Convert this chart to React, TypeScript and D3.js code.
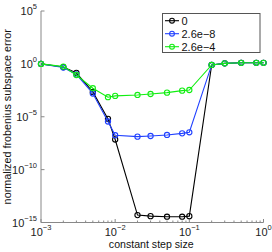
import { useRef, useEffect } from 'react'
import * as d3 from 'd3'

const stepSizes = [1e-3, 2e-3, 3e-3, 5e-3, 8e-3, 1e-2, 2e-2, 3e-2, 5e-2, 8e-2, 1e-1, 2e-1, 3e-1, 5e-1, 8e-1, 1]

// log10 of error
const errZero = [0, -0.3, -0.85, -2.65, -5.2, -7.15, -14.3, -14.4, -14.45, -14.45, -14.4, -0.1, 0.05, 0.1, 0.1, 0.1]
const errSmall = [0, -0.35, -1.0, -2.8, -5.45, -6.75, -6.88, -6.82, -6.72, -6.57, -6.47, -0.1, 0.05, 0.1, 0.1, 0.1]
const errLarge = [0, -0.26, -1.05, -2.3, -3.15, -3.03, -2.94, -2.85, -2.72, -2.53, -2.47, -0.1, 0.05, 0.1, 0.1, 0.1]

const seriesNames = ['0', '2.6e\u22128', '2.6e\u22124']
const seriesColors = ['#000000', '#2040ff', '#11ee11']

const xTicks = [-3, -2, -1, 0]
const yTicks = [-15, -10, -5, 0, 5]

const FONT = '"Liberation Sans", Arial, sans-serif'

export default function App() {
  const svgRef = useRef<SVGSVGElement>(null)

  useEffect(() => {
    if (!svgRef.current) return
    const svg = d3.select(svgRef.current)
    svg.selectAll('*').remove()

    const x = d3.scaleLog().domain([1e-3, 1]).range([41, 263.5])
    const y = d3.scaleLog().domain([1e-15, 1e5]).range([222.5, 11])

    const g = svg.append('g')

    // axes lines
    g.append('line')
      .attr('x1', x(1e-3)).attr('x2', x(1))
      .attr('y1', y(1e-15)).attr('y2', y(1e-15))
      .attr('stroke', '#888').attr('stroke-width', 1)
    g.append('line')
      .attr('x1', x(1e-3)).attr('x2', x(1e-3))
      .attr('y1', y(1e-15)).attr('y2', y(1e5))
      .attr('stroke', '#888').attr('stroke-width', 1)

    // x ticks, major and minor (inside)
    const minor: number[] = []
    for (let e = -3; e < 0; e++) {
      for (let k = 2; k <= 9; k++) minor.push(k * Math.pow(10, e))
    }
    g.selectAll('.xminor')
      .data(minor)
      .join('line')
      .attr('x1', (d) => x(d)).attr('x2', (d) => x(d))
      .attr('y1', y(1e-15)).attr('y2', y(1e-15) - 2)
      .attr('stroke', '#888')
    g.selectAll('.xmajor')
      .data(xTicks)
      .join('line')
      .attr('x1', (d) => x(Math.pow(10, d))).attr('x2', (d) => x(Math.pow(10, d)))
      .attr('y1', y(1e-15)).attr('y2', y(1e-15) - 3.5)
      .attr('stroke', '#888')
    g.selectAll('.ymajor')
      .data(yTicks)
      .join('line')
      .attr('x1', x(1e-3)).attr('x2', x(1e-3) + 3.5)
      .attr('y1', (d) => y(Math.pow(10, d))).attr('y2', (d) => y(Math.pow(10, d)))
      .attr('stroke', '#888')

    // tick labels
    xTicks.forEach((e) => {
      const t = g.append('text')
        .attr('x', x(Math.pow(10, e)))
        .attr('y', 236)
        .attr('text-anchor', 'middle')
        .attr('font-family', FONT)
        .attr('font-size', 11)
        .attr('fill', '#222')
      t.append('tspan').text('10')
      t.append('tspan').attr('dy', -6).attr('font-size', 7.5).text(e < 0 ? `\u2212${-e}` : `${e}`)
    })
    yTicks.forEach((e) => {
      const t = g.append('text')
        .attr('x', 37)
        .attr('y', y(Math.pow(10, e)) + 4)
        .attr('text-anchor', 'end')
        .attr('font-family', FONT)
        .attr('font-size', 11)
        .attr('fill', '#222')
      t.append('tspan').text('10')
      t.append('tspan').attr('dy', -6).attr('font-size', 7.5).text(e < 0 ? `\u2212${-e}` : `${e}`)
    })

    // axis titles
    g.append('text')
      .attr('x', x(Math.sqrt(1e-3 * 1)) - 1)
      .attr('y', 248)
      .attr('text-anchor', 'middle')
      .attr('font-family', FONT)
      .attr('font-size', 10.6)
      .attr('fill', '#111')
      .text('constant step size')
    g.append('text')
      .attr('transform', `translate(10.5,${(y(1e-15) + y(1e5)) / 2}) rotate(-90)`)
      .attr('text-anchor', 'middle')
      .attr('font-family', FONT)
      .attr('font-size', 10.8)
      .attr('fill', '#111')
      .text('normalized frobenius subspace error')

    // series
    const allSeries = [errZero, errSmall, errLarge]
    const line = d3.line<number>()
      .x((_, i) => x(stepSizes[i]))
      .y((d) => y(Math.pow(10, d)))

    allSeries.forEach((s, si) => {
      const color = seriesColors[si]
      g.append('path')
        .datum(s)
        .attr('d', line)
        .attr('fill', 'none')
        .attr('stroke', color)
        .attr('stroke-width', 1.1)
      g.selectAll(`.m${si}`)
        .data(s)
        .join('circle')
        .attr('cx', (_, i) => x(stepSizes[i]))
        .attr('cy', (d) => y(Math.pow(10, d)))
        .attr('r', 2.6)
        .attr('fill', 'none')
        .attr('stroke', color)
        .attr('stroke-width', 1.1)
    })

    // legend
    const lg = g.append('g')
    lg.append('rect')
      .attr('x', 162.5).attr('y', 13.5)
      .attr('width', 97.5).attr('height', 39)
      .attr('fill', '#fff')
      .attr('stroke', '#555')
      .attr('stroke-width', 1)
    seriesNames.forEach((name, i) => {
      const cy = 20.7 + i * 13
      lg.append('line')
        .attr('x1', 165).attr('x2', 179)
        .attr('y1', cy).attr('y2', cy)
        .attr('stroke', seriesColors[i])
        .attr('stroke-width', 1.1)
      lg.append('circle')
        .attr('cx', 172).attr('cy', cy)
        .attr('r', 2.4)
        .attr('fill', 'none')
        .attr('stroke', seriesColors[i])
        .attr('stroke-width', 1.1)
      lg.append('text')
        .attr('x', 181.5).attr('y', cy + 4)
        .attr('font-family', FONT)
        .attr('font-size', 11)
        .attr('fill', '#111')
        .text(name)
    })
  }, [])

  return (
    <svg
      ref={svgRef}
      width={272}
      height={252}
      style={{ position: 'absolute', left: 0, top: 0, background: '#fff' }}
    />
  )
}
